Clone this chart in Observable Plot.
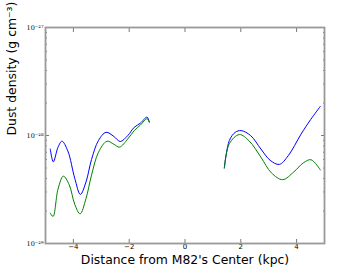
<!DOCTYPE html>
<html><head><meta charset="utf-8">
<script src="https://cdn.jsdelivr.net/npm/d3@7"></script>
<script src="https://cdn.jsdelivr.net/npm/@observablehq/plot@0.6"></script>
<style>body{margin:0;background:#fff}</style>
</head><body><div id="chart"></div>
<script>
const xLeft = [-4.83,-4.72,-4.55,-4.41,-4.2,-3.95,-3.75,-3.55,-3.35,-3.1,-2.83,-2.55,-2.32,-2.05,-1.82,-1.6,-1.36,-1.28];
const blueLeft = [7.5e-29,5.7e-29,7.8e-29,8.85e-29,7.2e-29,4.0e-29,2.85e-29,3.7e-29,6.0e-29,9.0e-29,1.07e-28,9.8e-29,8.8e-29,1.0e-28,1.19e-28,1.3e-28,1.48e-28,1.33e-28];
const xLeftG = [-4.83,-4.73,-4.55,-4.36,-4.15,-3.95,-3.76,-3.55,-3.35,-3.1,-2.8,-2.55,-2.35,-2.05,-1.82,-1.6,-1.36,-1.28];
const greenLeft = [1.91e-29,1.78e-29,3.2e-29,4.2e-29,3.5e-29,2.3e-29,1.88e-29,2.6e-29,4.3e-29,7.0e-29,8.85e-29,8.3e-29,7.8e-29,9.3e-29,1.11e-28,1.25e-28,1.43e-28,1.33e-28];
const xRightB = [1.41,1.59,1.8,2.01,2.35,2.72,3.05,3.38,3.7,4.16,4.5,4.85];
const blueRight = [5.0e-29,9.0e-29,1.07e-28,1.11e-28,1.0e-28,7.5e-29,5.9e-29,5.4e-29,6.5e-29,1.03e-28,1.4e-28,1.86e-28];
const xRightG = [1.41,1.59,1.95,2.3,2.72,3.1,3.5,3.9,4.25,4.52,4.85];
const greenRight = [5.0e-29,8.4e-29,1.02e-28,8.9e-29,6.3e-29,4.5e-29,3.9e-29,4.6e-29,5.6e-29,5.96e-29,4.8e-29];
const xTicks = [-4,-2,0,2,4];
const yMajor = [1e-29,1e-28,1e-27];
const yMajorLabels = ["10⁻²⁹","10⁻²⁸","10⁻²⁷"];
const yMinor = [2,3,4,5,6,7,8,9].flatMap(m => [m*1e-29, m*1e-28]);
const xLabel = "Distance from M82's Center (kpc)";
const yLabel = "Dust density (g cm⁻³)";

const mk = (xs, ys) => xs.map((x,i) => ({x, y: ys[i]}));
const segs = [
  {data: mk(xLeft, blueLeft), c: "#0000ff"},
  {data: mk(xRightB, blueRight), c: "#0000ff"},
  {data: mk(xLeftG, greenLeft), c: "#008000"},
  {data: mk(xRightG, greenRight), c: "#008000"}
];
const fmtY = d => yMajorLabels[yMajor.indexOf(d)] ?? "";
const none = () => "";
const plot = Plot.plot({
  width: 360, height: 270,
  marginLeft: 45, marginRight: 36, marginTop: 27, marginBottom: 27,
  style: {fontFamily: "DejaVu Sans, sans-serif", background: "#fff"},
  x: {domain: [-5, 5]},
  y: {type: "log", domain: [1e-29, 1e-27]},
  marks: [
    ...segs.map(s => Plot.line(s.data, {x: "x", y: "y", stroke: s.c, strokeWidth: 1, curve: "catmull-rom"})),
    Plot.axisX({ticks: xTicks, tickSize: -4, tickPadding: 5, fontSize: 7, label: null, tickFormat: d => d < 0 ? "\u2212" + Math.abs(d) : String(d), stroke: "#777"}),
    Plot.axisX({anchor: "top", ticks: xTicks, tickSize: -4, tickFormat: none, label: null, stroke: "#777"}),
    Plot.axisY({ticks: yMajor, tickSize: -4, tickPadding: 6, fontSize: 6.5, fontFamily: "DejaVu Serif, serif", tickFormat: fmtY, label: null, stroke: "#777"}),
    Plot.axisY({ticks: yMinor, tickSize: -2, tickFormat: none, label: null, stroke: "#777"}),
    Plot.axisY({anchor: "right", ticks: yMajor, tickSize: -4, tickFormat: none, label: null, stroke: "#777"}),
    Plot.axisY({anchor: "right", ticks: yMinor, tickSize: -2, tickFormat: none, label: null, stroke: "#777"}),
    Plot.frame({stroke: "#999", strokeWidth: 1.8}),
    Plot.text([xLabel], {frameAnchor: "bottom", dy: 20, fontSize: 12.4, fill: "#000"}),
    Plot.text([yLabel], {frameAnchor: "left", dx: -33, rotate: -90, fontSize: 12.4, fill: "#000"})
  ]
});
document.getElementById("chart").appendChild(plot);
</script></body></html>
